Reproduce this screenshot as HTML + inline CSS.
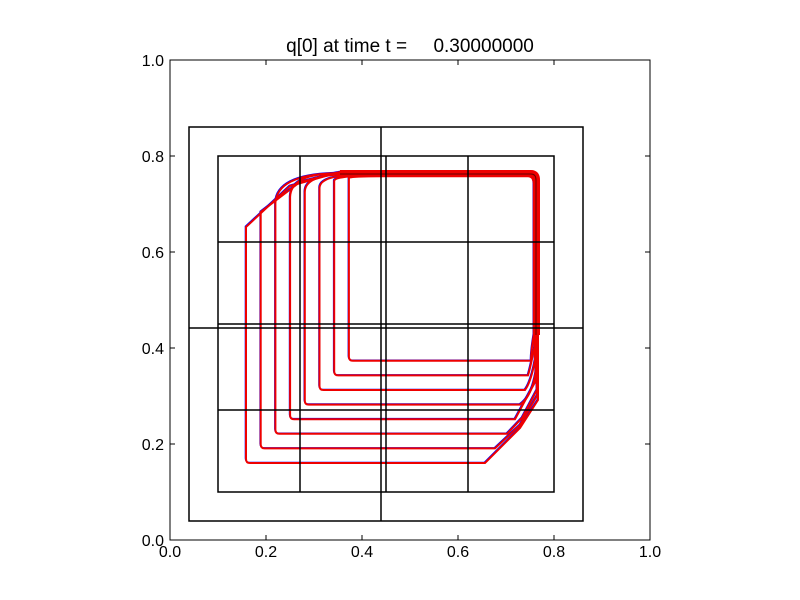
<!DOCTYPE html><html><head><style>body{margin:0;background:#fff}svg{display:block}text{font-family:"Liberation Sans",sans-serif}</style></head><body>
<svg width="800" height="600" xmlns="http://www.w3.org/2000/svg" xmlns:xlink="http://www.w3.org/1999/xlink">
<rect x="0" y="0" width="800" height="600" fill="#fff"/>
<defs>
<g id="cont">
<path d="M250,463 Q246,463 246,459 L246,227 L290,186 L340,172 L532,172 Q538,172 538,180 L538,400 L520,428 L485,463 Z"/>
<path d="M264.7,448.4 Q260.7,448.4 260.7,444.4 L260.7,212 L300,182 L337,172.6 L531.4,172.6 Q537.4,172.6 537.4,180.6 L537.4,395 L520,425 L495,448.4 Z"/>
<path d="M279.4,433.8 Q275.4,433.8 275.4,429.8 L275.4,203 Q277,175 334,173.2 L530.8,173.2 Q536.8,173.2 536.8,181.2 L536.8,390 L522,418 L507,433.8 Z"/>
<path d="M294.1,419.2 Q290.1,419.2 290.1,415.2 L290.1,197 Q291,175 331,173.8 L530.2,173.8 Q536.2,173.8 536.2,181.8 L536.2,380 L515,419.2 Z"/>
<path d="M308.8,404.6 Q304.8,404.6 304.8,400.6 L304.8,192 Q305,175 344.8,174.4 L529.6,174.4 Q535.6,174.4 535.6,182.4 L535.6,372.6 Q531.6,396.6 520,404.6 Z"/>
<path d="M323.5,390 Q319.5,390 319.5,386 L319.5,188 Q320,175 359.5,175 L529,175 Q535,175 535,183 L535,360 Q531,382 525,390 Z"/>
<path d="M338.2,375.4 Q334.2,375.4 334.2,371.4 L334.2,181 Q334.5,175.6 374.2,175.6 L528.4,175.6 Q534.4,175.6 534.4,183.6 L534.4,347.4 Q530.4,367.4 528,375.4 Z"/>
<path d="M352.9,360.8 Q348.9,360.8 348.9,356.8 L348.9,178 Q349,176.2 388.9,176.2 L527.8,176.2 Q533.8,176.2 533.8,184.2 L533.8,334.8 Q531,352 531,360.8 Z"/>
</g>
</defs>
<g fill="none">
<use xlink:href="#cont" stroke="#00f" stroke-width="1" transform="translate(-0.8,-0.8)"/>
<use xlink:href="#cont" stroke="#e00" stroke-width="2"/>
<path d="M340,173 L531,173 Q537,173 537,180 L537,335" stroke="#e00" stroke-width="6"/>
<path d="M340,174 L531,174 Q536,174 536,180 L536,335" stroke="#600" stroke-width="1"/>
</g>
<g stroke="#000" stroke-width="1.5" fill="none">
<rect x="189" y="127" width="394" height="394"/>
<rect x="218" y="156" width="336" height="336"/>
<line x1="300" y1="156" x2="300" y2="492"/><line x1="468" y1="156" x2="468" y2="492"/>
<line x1="381" y1="127" x2="381" y2="521"/><line x1="386" y1="156" x2="386" y2="492"/>
<line x1="218" y1="242" x2="554" y2="242"/><line x1="218" y1="410" x2="554" y2="410"/>
<line x1="189" y1="328" x2="583" y2="328"/><line x1="218" y1="324" x2="554" y2="324"/>
</g>
<rect x="170" y="60" width="480" height="480" fill="none" stroke="#000" stroke-width="1"/>
<g stroke="#000" stroke-width="1">
<line x1="266" y1="540" x2="266" y2="535"/><line x1="362" y1="540" x2="362" y2="535"/><line x1="458" y1="540" x2="458" y2="535"/><line x1="554" y1="540" x2="554" y2="535"/>
<line x1="266" y1="60" x2="266" y2="65"/><line x1="362" y1="60" x2="362" y2="65"/><line x1="458" y1="60" x2="458" y2="65"/><line x1="554" y1="60" x2="554" y2="65"/>
<line x1="170" y1="444" x2="175" y2="444"/><line x1="170" y1="348" x2="175" y2="348"/><line x1="170" y1="252" x2="175" y2="252"/><line x1="170" y1="156" x2="175" y2="156"/>
<line x1="650" y1="444" x2="645" y2="444"/><line x1="650" y1="348" x2="645" y2="348"/><line x1="650" y1="252" x2="645" y2="252"/><line x1="650" y1="156" x2="645" y2="156"/>
</g>
<g font-size="16" fill="#000">
<g text-anchor="middle"><text x="170" y="557">0.0</text><text x="266" y="557">0.2</text><text x="362" y="557">0.4</text><text x="458" y="557">0.6</text><text x="554" y="557">0.8</text><text x="650" y="557">1.0</text></g>
<g text-anchor="end"><text x="164" y="546">0.0</text><text x="164" y="450">0.2</text><text x="164" y="354">0.4</text><text x="164" y="258">0.6</text><text x="164" y="162">0.8</text><text x="164" y="66">1.0</text></g>
<text x="410" y="52" text-anchor="middle" font-size="19" xml:space="preserve">q[0] at time t =     0.30000000</text>
</g>
</svg></body></html>
